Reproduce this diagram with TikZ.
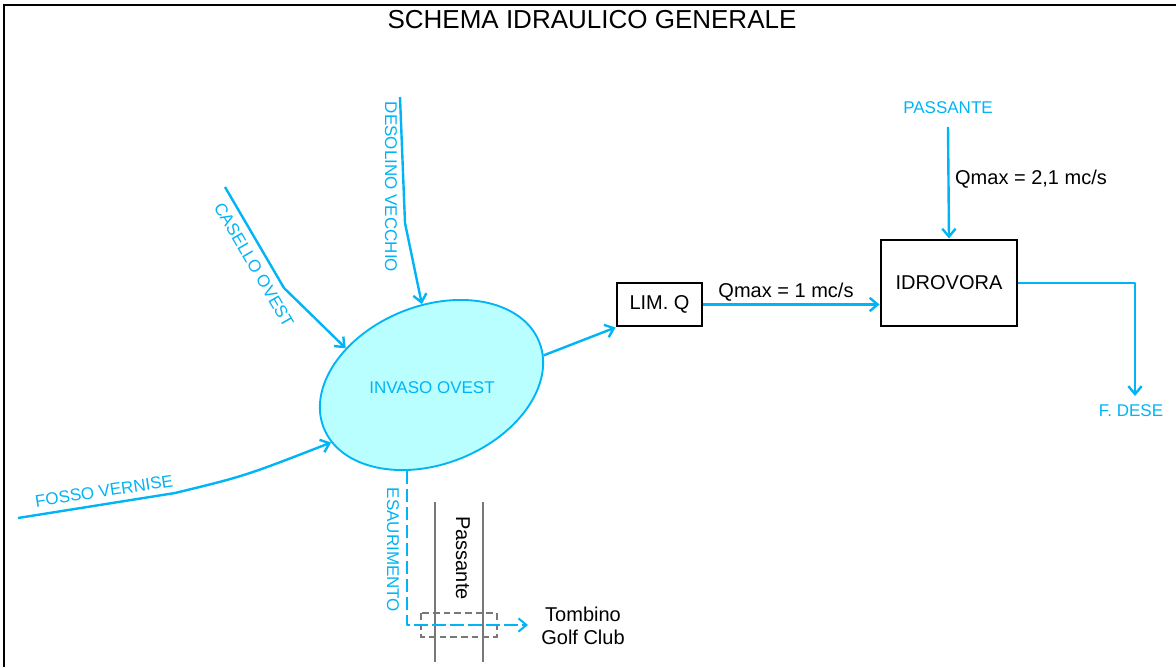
\documentclass[tikz,border=0pt]{standalone}
\usepackage{fontspec}
\setmainfont{Liberation Sans}
\usetikzlibrary{arrows.meta,shapes.geometric,calc}
\definecolor{cy}{RGB}{0,180,245}
\definecolor{cyfill}{RGB}{185,255,255}
\definecolor{gr}{RGB}{120,120,120}
\begin{document}
\begin{tikzpicture}[x=0.75pt,y=-0.75pt,
  flow/.style={draw=cy, line width=1.8pt, line join=round, -{Straight Barb[length=6pt,width=10pt]}},
  cylabel/.style={text=cy, font=\fontsize{12.75}{15}\selectfont, inner sep=0pt},
  blklabel/.style={text=black, font=\fontsize{15}{17}\selectfont, inner sep=0pt},
  blkbox/.style={draw=black, line width=2.2pt, font=\fontsize{15}{17}\selectfont, inner sep=0pt},
  graybar/.style={draw=gr, line width=0.9pt},
  frameline/.style={draw=black, line width=2.2pt}
]
\useasboundingbox (0,0) rectangle (1176,667);
% frame
\coordinate (fr0) at (4,667);
\coordinate (fr1) at (4,5);
\coordinate (fr2) at (1176,5);
\draw[frameline] (fr0) -- (fr1) -- (fr2);
% title
\node[text=black, font=\fontsize{19.5}{22}\selectfont, inner sep=0pt] (title) at (592,20) {SCHEMA IDRAULICO GENERALE};

% reservoir
\node[ellipse, draw=cy, fill=cyfill, line width=1.4pt, rotate=21.8,
      minimum width=174pt, minimum height=118.5pt, inner sep=0pt] (inv) at (431.5,385) {};
\node[cylabel] (invt) at (432,388) {INVASO OVEST};

% boxes
\node[blkbox, minimum width=63.75pt, minimum height=32.25pt] (limq) at (659.5,304.5) {LIM. Q};
\node[blkbox, minimum width=102pt, minimum height=64.5pt] (idro) at (949,283) {IDROVORA};

% Desolino Vecchio
\coordinate (dv0) at (400,97);
\coordinate (dv1) at (405,223);
\draw[flow] (dv0) -- (dv1) -- (inv.75.4);
\node[cylabel, rotate=-90] (dvt) at (391,187) {DESOLINO VECCHIO};

% Casello Ovest
\coordinate (co0) at (225,187);
\coordinate (co1) at (284,288);
\draw[flow] (co0) -- (co1) -- (inv.135.5);
\node[cylabel, rotate=-59.7] (cot) at (254,265) {CASELLO OVEST};

% Fosso Vernise
\coordinate (fv0) at (18,518);
\coordinate (fv1) at (175,493);
\coordinate (fvc) at (245,476);
\draw[flow] (fv0) -- (fv1) .. controls (fvc) .. (inv.188.7);
\node[cylabel, rotate=8.5] (fvt) at (104,491) {FOSSO VERNISE};

% to LIM Q
\draw[flow] (inv.353) -- (limq.south west);

% LIM Q to IDROVORA
\draw[flow] (limq.east) -- (limq.east -| idro.west);
\node[blklabel] (q1) at (786,292) {Qmax = 1 mc/s};

% Passante (top)
\node[cylabel] (pas) at (948,108) {PASSANTE};
\coordinate (pas0) at (948,127);
\draw[flow] (pas0) -- (idro.north);
\node[blklabel] (q2) at (1031,179) {Qmax = 2,1 mc/s};

% to F. Dese
\coordinate (fd0) at (1135,283);
\coordinate (fdtip) at (1135,396);
\draw[flow] (idro.east) -- (fd0) -- (fdtip);
\node[cylabel] (fdt) at (1131,411) {F. DESE};

% Passante (road) and culvert
\coordinate (pl0) at (435,502);
\coordinate (pl1) at (435,662);
\coordinate (pr0) at (483,502);
\coordinate (pr1) at (483,662);
\draw[graybar] (pl0) -- (pl1);
\draw[graybar] (pr0) -- (pr1);
\node[blklabel, rotate=-90] (pst) at (463,558) {Passante};
\coordinate (cb0) at (421,613);
\coordinate (cb1) at (497,637);
\draw[draw=gr, line width=0.9pt, dash pattern=on 5pt off 3pt] (cb0) rectangle (cb1);

% Esaurimento
\coordinate (estip) at (528,625);
\draw[flow, line width=1.5pt, dash pattern=on 10pt off 3.5pt] (inv.232) |- (estip);
\node[cylabel, rotate=-90] (est) at (393,550) {ESAURIMENTO};
\node[blklabel, align=center] (tomb) at (583,626) {Tombino\\Golf Club};
\end{tikzpicture}
\end{document}
